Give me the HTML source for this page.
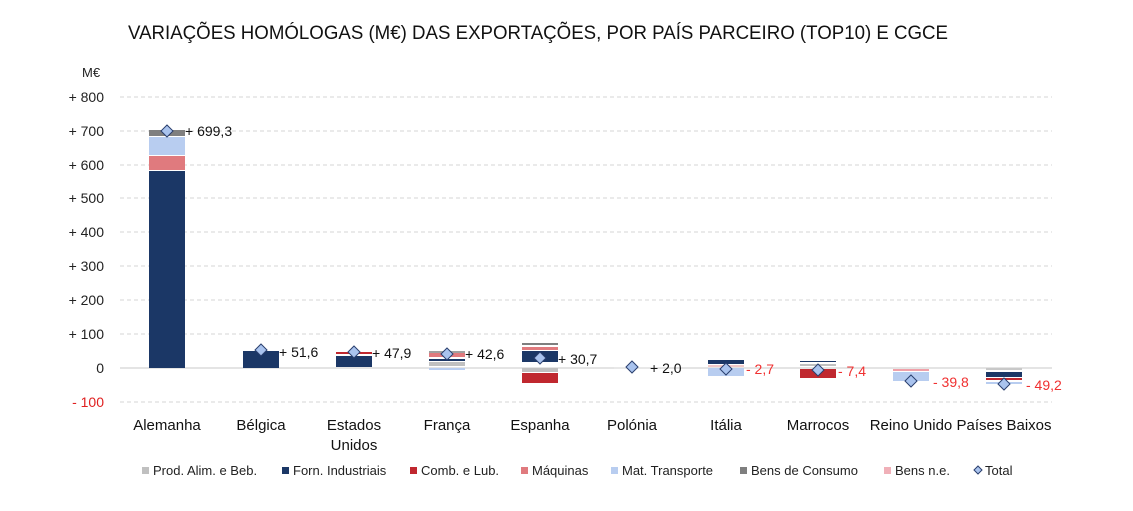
<!DOCTYPE html>
<html><head><meta charset="utf-8"><style>
body{margin:0;background:#fff;width:1133px;height:506px;overflow:hidden;font-family:"Liberation Sans",sans-serif}
</style></head><body>
<svg width="1133" height="506" xmlns="http://www.w3.org/2000/svg" font-family="Liberation Sans, sans-serif">
<text x="128" y="39" font-size="19" fill="#111" textLength="820" lengthAdjust="spacingAndGlyphs">VARIAÇÕES HOMÓLOGAS (M€) DAS EXPORTAÇÕES, POR PAÍS PARCEIRO (TOP10) E CGCE</text>
<text x="82" y="77" font-size="13" fill="#222">M€</text>
<g stroke="#d4d4d4" stroke-dasharray="4,3">
<line x1="120" x2="1052" y1="97" y2="97"/><line x1="120" x2="1052" y1="131" y2="131"/><line x1="120" x2="1052" y1="165" y2="165"/><line x1="120" x2="1052" y1="198" y2="198"/><line x1="120" x2="1052" y1="232" y2="232"/><line x1="120" x2="1052" y1="266" y2="266"/><line x1="120" x2="1052" y1="300" y2="300"/><line x1="120" x2="1052" y1="334" y2="334"/><line x1="120" x2="1052" y1="402" y2="402"/>
</g>
<line x1="120" x2="1052" y1="368" y2="368" stroke="#c8c8c8"/>
<g font-size="14" fill="#222" text-anchor="end">
<text x="104" y="102">+ 800</text><text x="104" y="136">+ 700</text><text x="104" y="170">+ 600</text><text x="104" y="203">+ 500</text><text x="104" y="237">+ 400</text><text x="104" y="271">+ 300</text><text x="104" y="305">+ 200</text><text x="104" y="339">+ 100</text><text x="104" y="373">0</text><text x="104" y="407" fill="#e02020">- 100</text>
</g>
<rect x="149" y="171" width="36" height="197" fill="#1b3766"/>
<rect x="149" y="156" width="36" height="14" fill="#e07a7e"/>
<rect x="149" y="137" width="36" height="18" fill="#b8cdf0"/>
<rect x="149" y="130" width="36" height="6" fill="#7f7f7f"/>
<rect x="243" y="351" width="36" height="17" fill="#1b3766"/>
<rect x="336" y="352" width="36" height="2" fill="#c0282f"/>
<rect x="336" y="356" width="36" height="11" fill="#1b3766"/>
<rect x="429" y="351" width="36" height="2" fill="#a0a0a0"/>
<rect x="429" y="353" width="36" height="4" fill="#e07a7e"/>
<rect x="429" y="359" width="36" height="2" fill="#1b3766"/>
<rect x="429" y="362" width="36" height="4" fill="#c0c0c0"/>
<rect x="429" y="368" width="36" height="2" fill="#b8cdf0"/>
<rect x="522" y="343" width="36" height="2" fill="#7f7f7f"/>
<rect x="522" y="347" width="36" height="3" fill="#e07a7e"/>
<rect x="522" y="351" width="36" height="11" fill="#1b3766"/>
<rect x="522" y="368" width="36" height="4" fill="#c0c0c0"/>
<rect x="522" y="373" width="36" height="10" fill="#c0282f"/>
<rect x="614" y="367" width="36" height="2" fill="#e8e8e8"/>
<rect x="708" y="360" width="36" height="4" fill="#1b3766"/>
<rect x="708" y="365" width="36" height="2" fill="#f0c8c8"/>
<rect x="708" y="368" width="36" height="8" fill="#b8cdf0"/>
<rect x="800" y="361" width="36" height="1" fill="#1b3766"/>
<rect x="800" y="364" width="36" height="2" fill="#c0c0c0"/>
<rect x="800" y="369" width="36" height="9" fill="#c0282f"/>
<rect x="893" y="369" width="36" height="2" fill="#f0a0a8"/>
<rect x="893" y="372" width="36" height="9" fill="#b8cdf0"/>
<rect x="986" y="368" width="36" height="2" fill="#c8c8c8"/>
<rect x="986" y="372" width="36" height="5" fill="#1b3766"/>
<rect x="986" y="378" width="36" height="2" fill="#c0282f"/>
<rect x="986" y="382" width="36" height="2" fill="#b8cdf0"/>
<g fill="#a9c3ee" stroke="#2a3f6e" stroke-width="1">
<path d="M167 125 l6 6 -6 6 -6 -6z"/>
<path d="M261 344 l6 6 -6 6 -6 -6z"/>
<path d="M354 346 l6 6 -6 6 -6 -6z"/>
<path d="M447 348 l6 6 -6 6 -6 -6z"/>
<path d="M540 352 l6 6 -6 6 -6 -6z"/>
<path d="M632 361 l6 6 -6 6 -6 -6z"/>
<path d="M726 363 l6 6 -6 6 -6 -6z"/>
<path d="M818 364 l6 6 -6 6 -6 -6z"/>
<path d="M911 375 l6 6 -6 6 -6 -6z"/>
<path d="M1004 378 l6 6 -6 6 -6 -6z"/>
</g>
<g font-size="14" fill="#111">
<text x="185" y="136">+ 699,3</text><text x="279" y="357">+ 51,6</text><text x="372" y="358">+ 47,9</text><text x="465" y="359">+ 42,6</text><text x="558" y="364">+ 30,7</text><text x="650" y="373">+ 2,0</text>
<g fill="#f03030"><text x="746" y="374">- 2,7</text><text x="838" y="376">- 7,4</text><text x="933" y="387">- 39,8</text><text x="1026" y="390">- 49,2</text></g>
</g>
<g font-size="15" fill="#111" text-anchor="middle">
<text x="167" y="430">Alemanha</text><text x="261" y="430">Bélgica</text><text x="354" y="430">Estados</text><text x="354" y="450">Unidos</text><text x="447" y="430">França</text><text x="540" y="430">Espanha</text><text x="632" y="430">Polónia</text><text x="726" y="430">Itália</text><text x="818" y="430">Marrocos</text><text x="911" y="430">Reino Unido</text><text x="1004" y="430">Países Baixos</text>
</g>
<g font-size="13" fill="#222">
<rect x="142" y="467" width="7" height="7" fill="#c0c0c0"/><text x="153" y="475">Prod. Alim. e Beb.</text>
<rect x="282" y="467" width="7" height="7" fill="#1b3766"/><text x="293" y="475">Forn. Industriais</text>
<rect x="410" y="467" width="7" height="7" fill="#c0282f"/><text x="421" y="475">Comb. e Lub.</text>
<rect x="521" y="467" width="7" height="7" fill="#e07a7e"/><text x="532" y="475">Máquinas</text>
<rect x="611" y="467" width="7" height="7" fill="#b8cdf0"/><text x="622" y="475">Mat. Transporte</text>
<rect x="740" y="467" width="7" height="7" fill="#7f7f7f"/><text x="751" y="475">Bens de Consumo</text>
<rect x="884" y="467" width="7" height="7" fill="#f0b0b8"/><text x="895" y="475">Bens n.e.</text>
<path d="M978 466 l4 4 -4 4 -4 -4z" fill="#a9c3ee" stroke="#2a3f6e"/><text x="985" y="475">Total</text>
</g>
</svg>
</body></html>
